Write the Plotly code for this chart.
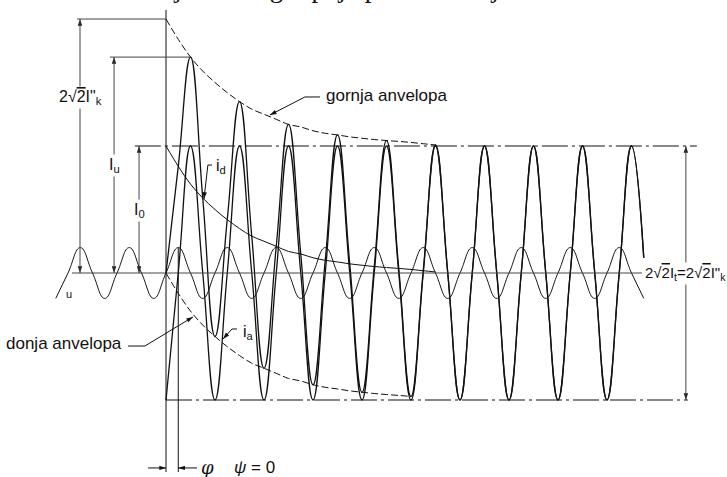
import math
import plotly.graph_objects as go

# ---------------- data ----------------
# time in ms (50 Hz -> period 20 ms), current in units of the steady-state peak sqrt(2)*I_k
PERIOD_MS = 20
STEP_MS = 5  # quarter period sampling

# voltage u (sampled every quarter period, starts at a trough)
t_u = list(range(-45, 200, STEP_MS))
u_vals = [-0.2, 0, 0.2, 0, -0.2, 0, 0.2, 0, -0.2, 0, 0.2, 0,
          -0.2, 0, 0.2, 0, -0.2, 0, 0.2, 0, -0.2, 0, 0.2, 0,
          -0.2, 0, 0.2, 0, -0.2, 0, 0.2, 0, -0.2, 0, 0.2, 0,
          -0.2, 0, 0.2, 0, -0.2, 0, 0.2, 0, -0.2, 0, 0.2, 0,
          -0.2]

# symmetric AC component i_a (starts at its trough at t = 0)
t_i = list(range(0, 200, STEP_MS))
ia_vals = [-1, 0, 1, 0, -1, 0, 1, 0, -1, 0, 1, 0, -1, 0, 1, 0,
           -1, 0, 1, 0, -1, 0, 1, 0, -1, 0, 1, 0, -1, 0, 1, 0,
           -1, 0, 1, 0, -1, 0, 1, 0.12]

# decaying DC component i_d
t_d = list(range(0, 115, STEP_MS))
id_vals = [1.00, 0.84, 0.70, 0.59, 0.50, 0.42, 0.35, 0.29, 0.25, 0.21,
           0.17, 0.15, 0.12, 0.10, 0.087, 0.072, 0.061, 0.051, 0.043,
           0.036, 0.028, 0.018, 0.008]
N_LOWER_ENV = 21  # lower envelope drawn up to 100 ms

# dimension values
I_peak_k = 2.0   # 2*sqrt2*I''k
I_u = 1.70       # first peak
I_0 = 1.0        # initial DC component
I_ss = 1.0       # steady-state peak
U_peak = 0.2     # voltage peak (phi line)
PHI_MS = 5       # phase shift phi (90 deg)

# total current i = i_a + i_d
i_total = [a + (id_vals[k] if k < len(id_vals) else 0.0) for k, a in enumerate(ia_vals)]
upper_env = [I_ss + d for d in id_vals]
lower_env = [-I_ss + d for d in id_vals[:N_LOWER_ENV]]

# ---------------- figure ----------------
W, H = 727, 477
X_RANGE = [-67.755, 228.98]
Y_RANGE = [-1.6063, 2.1496]
PX_X = W / (X_RANGE[1] - X_RANGE[0])
PX_Y = H / (Y_RANGE[1] - Y_RANGE[0])

BLACK = "#111111"
GREY = "#444444"
FONT = "Liberation Sans, Arial, sans-serif"
SQ2 = "2√<span style=\"text-decoration:overline\">2</span>"  # 2*sqrt(2) with overbar

fig = go.Figure()
fig.add_trace(go.Scatter(x=t_u, y=u_vals, mode="lines",
                         line=dict(color=BLACK, width=1, shape="spline", smoothing=1.3)))
fig.add_trace(go.Scatter(x=t_i, y=ia_vals, mode="lines",
                         line=dict(color=BLACK, width=1.3, shape="spline", smoothing=1.3)))
fig.add_trace(go.Scatter(x=t_i, y=i_total, mode="lines",
                         line=dict(color=BLACK, width=1.3, shape="spline", smoothing=1.3)))
fig.add_trace(go.Scatter(x=t_d, y=id_vals, mode="lines",
                         line=dict(color=BLACK, width=1, shape="spline", smoothing=1.0)))
fig.add_trace(go.Scatter(x=t_d, y=upper_env, mode="lines",
                         line=dict(color=BLACK, width=1, dash="7px,3px", shape="spline")))
fig.add_trace(go.Scatter(x=t_d[:N_LOWER_ENV], y=lower_env, mode="lines",
                         line=dict(color=BLACK, width=1, dash="7px,3px", shape="spline")))

DASHDOT = "26px,4px,3px,4px"
shapes = [
    # baseline
    dict(type="line", x0=-38.4, x1=194.3, y0=0, y1=0, line=dict(color=GREY, width=1)),
    # switching instant axis
    dict(type="line", x0=0, x1=0, y0=-1.567, y1=2.071, line=dict(color=BLACK, width=1)),
    # phi line (voltage peak)
    dict(type="line", x0=PHI_MS, x1=PHI_MS, y0=-1.567, y1=U_peak, line=dict(color=BLACK, width=1)),
    # steady-state peak lines
    dict(type="line", x0=-12.7, x1=216.7, y0=I_ss, y1=I_ss, line=dict(color=BLACK, width=1, dash=DASHDOT)),
    dict(type="line", x0=0, x1=213.0, y0=-I_ss, y1=-I_ss, line=dict(color=BLACK, width=1, dash=DASHDOT)),
    # extension lines
    dict(type="line", x0=-36.3, x1=0, y0=I_peak_k, y1=I_peak_k, line=dict(color=GREY, width=1)),
    dict(type="line", x0=-22.9, x1=10, y0=I_u, y1=I_u, line=dict(color=GREY, width=1)),
    # leader ticks
    dict(type="line", x0=56.7, x1=62.9, y0=1.386, y1=1.386, line=dict(color=BLACK, width=1)),
    dict(type="line", x0=17.1, x1=18.8, y0=0.850, y1=0.850, line=dict(color=BLACK, width=1)),
    dict(type="line", x0=26.9, x1=29.0, y0=-0.441, y1=-0.441, line=dict(color=BLACK, width=1)),
    dict(type="line", x0=-15.5, x1=-8.6, y0=-0.575, y1=-0.575, line=dict(color=BLACK, width=1)),
]

head_x, head_y, head_ang = [], [], []


def arrow(xh, yh, xt, yt, both=False, color=BLACK):
    """line from tail (xt,yt) to head (xh,yh) with arrowhead marker(s)"""
    shapes.append(dict(type="line", x0=xt, y0=yt, x1=xh, y1=yh, line=dict(color=color, width=1)))
    dx = (xh - xt) * PX_X
    dy = -(yh - yt) * PX_Y  # screen, down positive
    ang = math.degrees(math.atan2(dx, -dy))
    head_x.append(xh); head_y.append(yh); head_ang.append(ang)
    if both:
        head_x.append(xt); head_y.append(yt); head_ang.append(ang + 180)


# dimension arrows
arrow(-35.1, I_peak_k, -35.1, 0, both=True, color=GREY)
arrow(-21.2, I_u, -21.2, 0, both=True, color=GREY)
arrow(-11.0, I_0, -11.0, 0, both=True, color=GREY)
arrow(212.2, I_ss, 212.2, -I_ss, both=True, color=GREY)
# leaders
arrow(42.4, 1.244, 56.7, 1.386)
arrow(15.5, 0.583, 17.1, 0.850)
arrow(23.3, -0.520, 26.9, -0.441)
arrow(11.0, -0.346, -8.6, -0.575)
# phi arrows
arrow(0, -1.535, -7.3, -1.535)
arrow(PHI_MS, -1.535, 12.65, -1.535)

fig.add_trace(go.Scatter(x=head_x, y=head_y, mode="markers",
                         marker=dict(symbol="arrow", size=7, angle=head_ang, color=BLACK,
                                     line=dict(width=0))))

ann = []


def label(x, y, text, size=16, xanchor="center", bg=None, family=FONT):
    d = dict(x=x, y=y, xref="x", yref="y", text=text, showarrow=False,
             xanchor=xanchor, yanchor="middle",
             font=dict(family=family, size=size, color=BLACK))
    if bg:
        d["bgcolor"] = bg
    ann.append(d)


label(-35.1, 1.378, SQ2 + "I\"<sub>k</sub>", bg="white")
label(-21.2, 0.850, "I<sub>u</sub>", bg="white")
label(-11.0, 0.496, "I<sub>0</sub>", bg="white")
label(-39.6, -0.165, "u", size=11)
label(19.6, 0.835, "i<sub>d</sub>", xanchor="left")
label(30.6, -0.472, "i<sub>a</sub>", xanchor="left")
label(64.5, 1.394, "gornja anvelopa", size=17, xanchor="left")
label(-17.1, -0.559, "donja anvelopa", size=17, xanchor="right")
label(194.7, 0, SQ2 + "I<sub>t</sub>=" + SQ2 + "I\"<sub>k</sub>", size=15, xanchor="left", bg="white")
label(17.1, -1.535, "<i>φ</i>", size=18, family="DejaVu Serif, serif")
label(36.3, -1.535, "<i>ψ</i> = 0", size=17)

# clipped heading line above the figure (only descenders visible)
for tx, txt in [(-13.8, "struje kratkog"), (54.3, "spoja pri trofaznoj")]:
    ann.append(dict(x=tx, y=1, xref="x", yref="paper", text=txt, showarrow=False,
                    xanchor="left", yanchor="bottom", yshift=-5,
                    font=dict(family="Liberation Serif, Times New Roman, serif", size=27, color=BLACK)))

fig.update_layout(
    width=W, height=H, autosize=False,
    margin=dict(l=0, r=0, t=0, b=0, pad=0),
    paper_bgcolor="white", plot_bgcolor="white",
    showlegend=False, hovermode=False,
    xaxis=dict(range=X_RANGE, visible=False, fixedrange=True),
    yaxis=dict(range=Y_RANGE, visible=False, fixedrange=True),
    shapes=shapes, annotations=ann,
)

fig.write_html("out.html", config={"displayModeBar": False},
               post_script="document.body.style.margin='0';document.body.style.overflow='hidden';")
